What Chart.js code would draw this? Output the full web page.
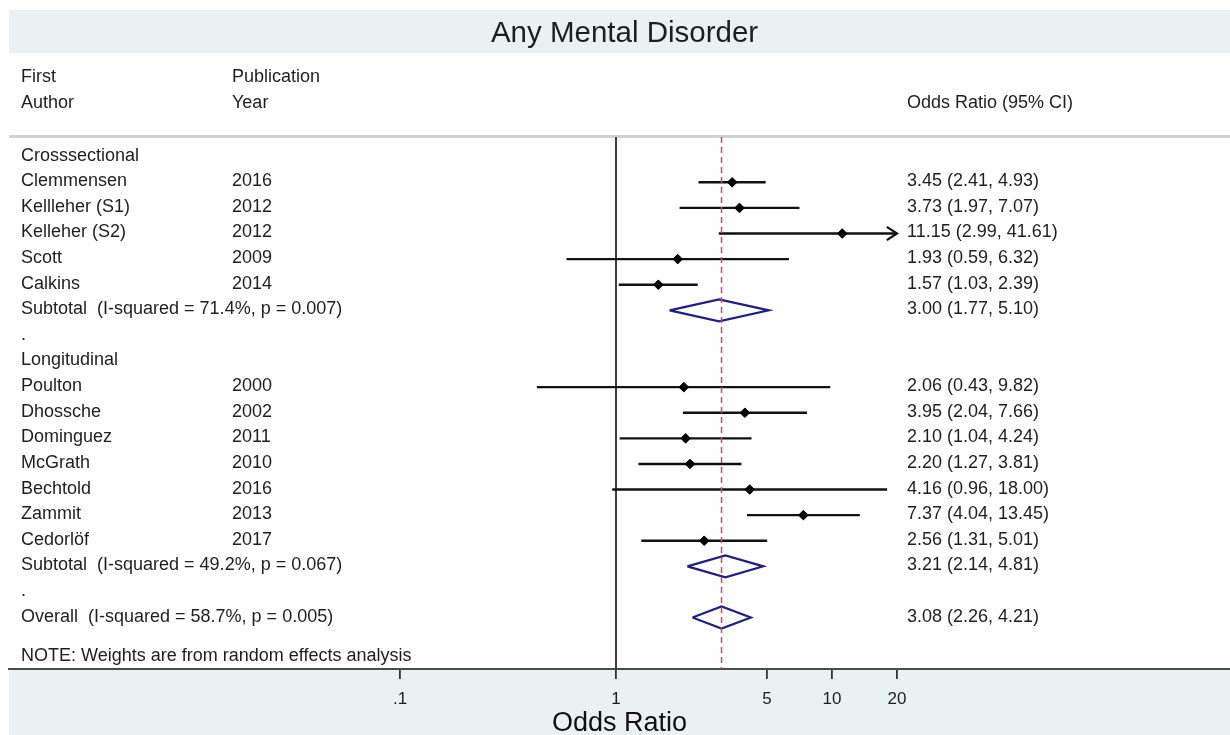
<!DOCTYPE html>
<html>
<head>
<meta charset="utf-8">
<script src="https://cdn.jsdelivr.net/npm/chart.js@4.4.1/dist/chart.umd.min.js"></script>
<style>
  body { margin: 0; background: #fff; }
</style>
</head>
<body>
<canvas id="forest" width="1230" height="735"></canvas>
<script>
// study level data
const authors = ['Clemmensen', 'Kellleher (S1)', 'Kelleher (S2)', 'Scott', 'Calkins',
  'Poulton', 'Dhossche', 'Dominguez', 'McGrath', 'Bechtold', 'Zammit', 'Cedorlöf'];
const years = [2016, 2012, 2012, 2009, 2014, 2000, 2002, 2011, 2010, 2016, 2013, 2017];
const oddsRatios = [3.45, 3.73, 11.15, 1.93, 1.57, 2.06, 3.95, 2.10, 2.20, 4.16, 7.37, 2.56];
const lowerCI = [2.41, 1.97, 2.99, 0.59, 1.03, 0.43, 2.04, 1.04, 1.27, 0.96, 4.04, 1.31];
const upperCI = [4.93, 7.07, 41.61, 6.32, 2.39, 9.82, 7.66, 4.24, 3.81, 18.00, 13.45, 5.01];
const studyRows = [1, 2, 3, 4, 5, 9, 10, 11, 12, 13, 14, 15];

// pooled estimates
const pooledLabels = ['Subtotal  (I-squared = 71.4%, p = 0.007)', 'Subtotal  (I-squared = 49.2%, p = 0.067)',
  'Overall  (I-squared = 58.7%, p = 0.005)'];
const pooledOR = [3.00, 3.21, 3.08];
const pooledLower = [1.77, 2.14, 2.26];
const pooledUpper = [5.10, 4.81, 4.21];
const pooledRows = [6, 16, 18];

const groupLabels = ['Crosssectional', '.', 'Longitudinal', '.'];
const groupRows = [0, 7, 8, 17];

const tickValues = [0.1, 1, 5, 10, 20];
const overallOR = 3.08;

const fmt = v => v.toFixed(2);
const family = '"Liberation Sans", Arial, sans-serif';
const font = '18px ' + family;
const textColor = '#1e1e1e';
const band = '#e9f1f3';
const yTop = -0.77, yBottom = 20.01;
const clipMax = 20;

const datasets = [];

// null line and overall line
datasets.push({ data: [{ x: 1, y: yTop }, { x: 1, y: yBottom }], borderColor: '#2a2a2a', borderWidth: 1.8, order: 3 });
datasets.push({ data: [{ x: overallOR, y: yTop }, { x: overallOR, y: yBottom }], borderColor: '#b5566a',
  borderWidth: 1.5, borderDash: [6, 4], order: 1 });

// confidence intervals
authors.forEach((a, i) => {
  const r = studyRows[i];
  const hi = Math.min(upperCI[i], clipMax);
  datasets.push({ data: [{ x: lowerCI[i], y: r }, { x: hi, y: r }], borderColor: '#111', borderWidth: 2.4, order: 2 });
  if (upperCI[i] > clipMax) {
    datasets.push({ data: [{ x: clipMax / 1.115, y: r - 0.26 }, { x: clipMax, y: r }, { x: clipMax / 1.115, y: r + 0.26 }],
      borderColor: '#111', borderWidth: 2.2, order: 2 });
  }
});

// pooled diamonds
pooledOR.forEach((v, i) => {
  const r = pooledRows[i];
  datasets.push({
    data: [{ x: pooledLower[i], y: r }, { x: v, y: r - 0.43 }, { x: pooledUpper[i], y: r },
      { x: v, y: r + 0.43 }, { x: pooledLower[i], y: r }],
    borderColor: '#1f2278', borderWidth: 2.2, borderJoinStyle: 'miter', order: 2
  });
});

// point estimates
datasets.push({
  showLine: false,
  data: oddsRatios.map((v, i) => ({ x: v, y: studyRows[i] })),
  pointStyle: 'rectRot', pointRadius: 4.8, pointBackgroundColor: '#000', pointBorderColor: '#000',
  pointBorderWidth: 1, order: 0
});

datasets.forEach(d => {
  if (d.showLine === undefined) d.showLine = true;
  if (d.pointRadius === undefined) d.pointRadius = 0;
  d.fill = false;
  d.tension = 0;
});

const forestText = {
  id: 'forestText',
  beforeDraw(chart) {
    const ctx = chart.ctx;
    const area = chart.chartArea;
    ctx.save();
    ctx.fillStyle = '#fff';
    ctx.fillRect(0, 0, chart.width, chart.height);
    ctx.fillStyle = band;
    ctx.fillRect(area.left, 10, area.right - area.left, 43);
    ctx.fillRect(area.left, area.bottom, area.right - area.left, chart.height - area.bottom);
    ctx.fillStyle = '#d0d0d0';
    ctx.fillRect(area.left, area.top - 2, area.right - area.left, 3);
    ctx.restore();
  },
  afterDraw(chart) {
    const ctx = chart.ctx;
    const y = chart.scales.y;
    const at = v => y.getPixelForValue(v) - 1;
    const colAuthor = 21, colYear = 232, colCI = 907;
    ctx.save();
    ctx.fillStyle = textColor;
    ctx.textBaseline = 'middle';
    ctx.font = '29.5px ' + family;
    ctx.textAlign = 'center';
    ctx.fillText('Any Mental Disorder', 624.5, 34);
    ctx.textAlign = 'left';
    ctx.font = font;
    ctx.fillText('First', colAuthor, at(-3.08));
    ctx.fillText('Publication', colYear, at(-3.08));
    ctx.fillText('Author', colAuthor, at(-2.06));
    ctx.fillText('Year', colYear, at(-2.06));
    ctx.fillText('Odds Ratio (95% CI)', colCI, at(-2.06));
    groupLabels.forEach((g, i) => ctx.fillText(g, colAuthor, at(groupRows[i])));
    authors.forEach((a, i) => {
      const py = at(studyRows[i]);
      ctx.fillText(a, colAuthor, py);
      ctx.fillText(String(years[i]), colYear, py);
      ctx.fillText(fmt(oddsRatios[i]) + ' (' + fmt(lowerCI[i]) + ', ' + fmt(upperCI[i]) + ')', colCI, py);
    });
    pooledLabels.forEach((p, i) => {
      const py = at(pooledRows[i]);
      ctx.fillText(p, colAuthor, py);
      ctx.fillText(fmt(pooledOR[i]) + ' (' + fmt(pooledLower[i]) + ', ' + fmt(pooledUpper[i]) + ')', colCI, py);
    });
    ctx.fillText('NOTE: Weights are from random effects analysis', colAuthor, at(19.54));
    ctx.restore();
  }
};

new Chart(document.getElementById('forest'), {
  type: 'scatter',
  data: { datasets },
  options: {
    responsive: false,
    animation: false,
    layout: { autoPadding: false, padding: { left: 9, right: 0, top: 137, bottom: 0 } },
    plugins: { legend: { display: false }, tooltip: { enabled: false } },
    scales: {
      x: {
        type: 'logarithmic',
        min: Math.pow(10, -607 / 216),
        max: Math.pow(10, 614 / 216),
        afterBuildTicks: s => { s.ticks = tickValues.map(v => ({ value: v })); },
        afterFit: s => { s.height = 66; s.paddingLeft = 0; s.paddingRight = 0; },
        ticks: {
          autoSkip: false, maxRotation: 0, padding: 10, color: textColor,
          font: { family, size: 17 },
          callback: v => (v === 0.1 ? '.1' : String(v))
        },
        grid: { drawOnChartArea: false, drawTicks: true, tickLength: 10, color: '#333', lineWidth: 1.8 },
        border: { display: true, color: '#4a4a4a', width: 2 },
        title: { display: true, text: 'Odds Ratio', color: '#111', padding: { top: 0, bottom: 0 },
          font: { family, size: 27, lineHeight: 0.85 } }
      },
      y: { display: false, min: yTop, max: yBottom, reverse: true }
    }
  },
  plugins: [forestText]
});
</script>
</body>
</html>
